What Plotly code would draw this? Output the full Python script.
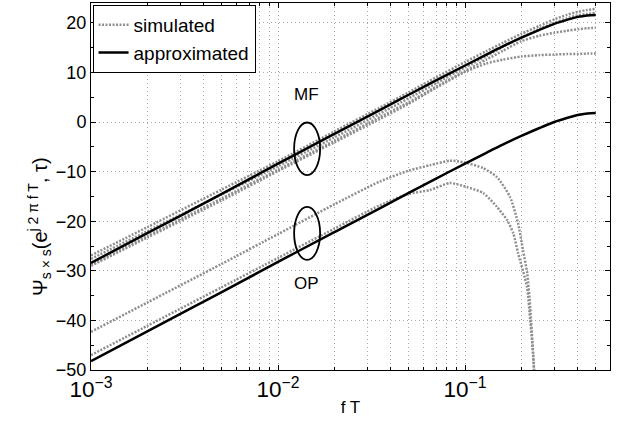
import plotly.graph_objects as go

# frequency grid (fT) used for the approximated curves and MF simulations
ft_grid = [0.001, 0.002, 0.005, 0.01, 0.02, 0.035, 0.05, 0.07, 0.1, 0.13,
           0.16, 0.2, 0.25, 0.3, 0.35, 0.4, 0.45, 0.5]

mf_approx = [-28.4, -22.4, -14.5, -8.4, -2.4, 2.4, 5.5, 8.4, 11.4, 13.6,
             15.3, 17.0, 18.6, 19.8, 20.6, 21.2, 21.5, 21.6]
op_approx = [-48.2, -42.2, -34.3, -28.2, -22.2, -17.4, -14.3, -11.4, -8.4, -6.2,
             -4.5, -2.8, -1.2, 0.0, 0.8, 1.4, 1.7, 1.8]

mf_sim_a = [-26.9, -21.2, -13.6, -7.9, -1.9, 2.9, 6.0, 9.0, 12.1, 14.3,
            16.0, 17.8, 19.4, 20.7, 21.6, 22.2, 22.6, 22.8]
mf_sim_b = [-27.6, -22.0, -14.6, -8.9, -3.1, 1.7, 4.8, 7.8, 11.0, 13.3,
            15.2, 17.0, 18.8, 20.0, 20.9, 21.5, 21.8, 22.0]
mf_sim_c = [-28.8, -23.0, -15.4, -9.6, -3.8, 1.0, 4.0, 7.1, 10.3, 12.6,
            14.4, 16.3, 17.4, 18.0, 18.4, 18.7, 18.9, 19.0]
mf_sim_d = [-29.0, -23.3, -15.8, -9.9, -4.1, 0.6, 3.7, 6.9, 10.1, 11.8,
            12.6, 13.2, 13.5, 13.6, 13.7, 13.7, 13.8, 13.8]

op_sim_hi_ft = [0.001, 0.002, 0.005, 0.01, 0.02, 0.035, 0.05, 0.065, 0.083, 0.098,
                0.125, 0.148, 0.174, 0.192, 0.204, 0.215, 0.223, 0.231, 0.24]
op_sim_hi = [-42.3, -36.4, -28.6, -22.6, -16.6, -12.0, -9.8, -8.7, -7.8, -8.1,
             -9.3, -11.1, -15.1, -20.4, -25.8, -30.5, -37.3, -46.6, -58.0]

op_sim_lo_ft = [0.001, 0.002, 0.005, 0.01, 0.02, 0.035, 0.05, 0.065, 0.083, 0.102,
                0.125, 0.148, 0.168, 0.181, 0.192, 0.2146, 0.223, 0.231, 0.24]
op_sim_lo = [-47.0, -41.1, -33.3, -27.4, -21.5, -16.8, -14.5, -13.7, -12.3, -13.1,
             -14.3, -17.1, -19.8, -22.4, -26.4, -33.3, -40.0, -46.6, -58.0]

FONT = "Liberation Sans, Arial, sans-serif"
GRAY = "#8f8f8f"
GRID = "#a8a8a8"

fig = go.Figure()

sims = [(ft_grid, mf_sim_a), (ft_grid, mf_sim_b), (ft_grid, mf_sim_c), (ft_grid, mf_sim_d),
        (op_sim_hi_ft, op_sim_hi), (op_sim_lo_ft, op_sim_lo)]
for i, (xs, ys) in enumerate(sims):
    fig.add_trace(go.Scatter(
        x=xs, y=ys, mode="lines",
        line=dict(color=GRAY, width=2.5, dash="2px,1.5px", shape="spline", smoothing=0.6),
        name="simulated", legendgroup="sim", showlegend=(i == 0)
    ))

for i, ys in enumerate([mf_approx, op_approx]):
    fig.add_trace(go.Scatter(
        x=ft_grid, y=ys, mode="lines",
        line=dict(color="black", width=2.5, shape="spline"),
        name="approximated", legendgroup="apx", showlegend=(i == 0)
    ))

# ellipses marking the MF and OP groups
fig.add_shape(type="circle", xref="x", yref="y", x0=0.01219, x1=0.01679,
              y0=-10.7, y1=-0.1, line=dict(color="black", width=1.8))
fig.add_shape(type="circle", xref="x", yref="y", x0=0.01219, x1=0.01679,
              y0=-27.8, y1=-17.1, line=dict(color="black", width=1.8))

fig.add_annotation(x=-1.85, y=5.6, text="MF", showarrow=False,
                   font=dict(size=17, color="black", family=FONT))
fig.add_annotation(x=-1.85, y=-32.6, text="OP", showarrow=False,
                   font=dict(size=17, color="black", family=FONT))

# y-axis label, placed by hand so it sits a bit below the axis centre like the original
fig.add_annotation(xref="paper", yref="paper", x=-0.13, y=0.39, textangle=-90,
                   text="Ψ<sub>s × s</sub>(e<sup>j 2 π f T</sup>, τ)", showarrow=False,
                   font=dict(size=20, color="black", family=FONT))

grid_style = dict(showgrid=True, gridcolor=GRID, griddash="1px,3px", gridwidth=1)

fig.update_xaxes(
    type="log", range=[-3, -0.225], dtick=1, exponentformat="power",
    ticks="inside", ticklen=5, tickcolor="black", mirror="allticks",
    showline=True, linecolor="black", linewidth=1,
    minor=dict(ticks="inside", ticklen=3, tickcolor="black", showgrid=True,
               gridcolor=GRID, griddash="1px,3px"),
    title=dict(text="f T", font=dict(size=17, family=FONT), standoff=0),
    tickfont=dict(size=18, family=FONT, color="black"),
    zeroline=False, **grid_style
)
fig.update_yaxes(
    range=[-50, 24], dtick=10, ticks="inside", ticklen=5, tickcolor="black",
    mirror="allticks", showline=True, linecolor="black", linewidth=1,
    minor=dict(ticks="inside", ticklen=3, tickcolor="black", dtick=5, showgrid=False),
    tickfont=dict(size=18, family=FONT, color="black"),
    zeroline=False, **grid_style
)

fig.update_layout(
    width=619, height=424,
    margin=dict(l=91, r=9, t=3, b=54),
    plot_bgcolor="white", paper_bgcolor="white",
    font=dict(family=FONT, color="black"),
    legend=dict(x=0.003, y=0.995, xanchor="left", yanchor="top",
                bgcolor="white", bordercolor="black", borderwidth=1,
                font=dict(size=19, family=FONT), itemwidth=30,
                tracegroupgap=0),
)

fig.write_html("out.html", config={"displayModeBar": False},
               post_script="document.body.style.margin='0';")
